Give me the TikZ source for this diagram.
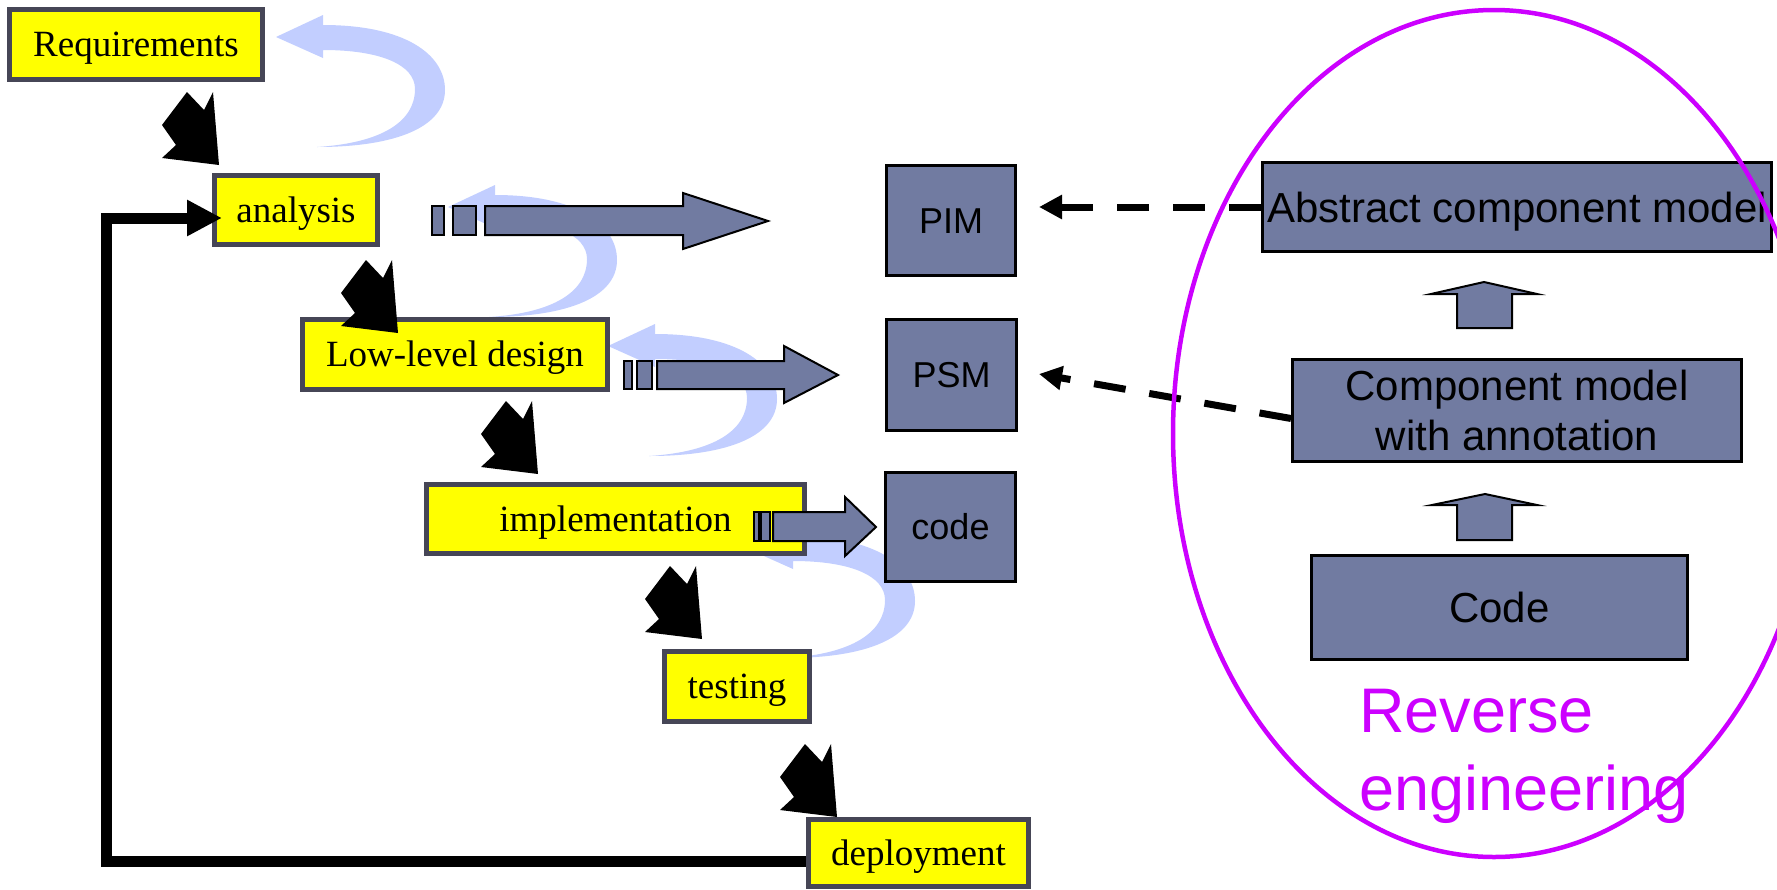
\documentclass[tikz,border=0pt]{standalone}
\usepackage{fontspec}
\setmainfont{Liberation Serif}
\setsansfont{Liberation Sans}
\usetikzlibrary{arrows.meta,calc}
\definecolor{ybox}{RGB}{255,255,0}
\definecolor{yborder}{RGB}{70,70,86}
\definecolor{slate}{RGB}{113,123,161}
\definecolor{lblue}{RGB}{194,206,255}
\definecolor{mag}{RGB}{204,0,255}
\tikzset{
  phase/.style={draw=yborder, fill=ybox, line width=2.5pt, inner sep=0pt,
    font=\fontsize{18.5}{22}\selectfont, text height=12.25pt, text depth=0pt},
  model/.style={draw=black, fill=slate, line width=1.5pt, inner sep=0pt,
    font=\sffamily\fontsize{18}{21}\selectfont, text height=12.9pt, text depth=0pt},
  rmodel/.style={draw=black, fill=slate, line width=1.5pt, inner sep=0pt,
    font=\sffamily\fontsize{21}{25}\selectfont, text height=15pt, text depth=0pt},
  rmodeltwo/.style={draw=black, fill=slate, line width=1.5pt, inner sep=0pt,
    align=center, font=\sffamily\fontsize{21}{25}\selectfont},
  stripe/.style={fill=slate, draw=black, line width=1pt, line join=miter},
  blockup/.style={fill=slate, draw=black, line width=1pt},
  dasharr/.style={draw=black, line width=3.5pt, dash pattern=on 16pt off 12pt,
    -{Triangle[length=11.5pt,width=11.5pt]}},
  fbline/.style={draw=black, line width=5.5pt, line join=miter,
    -{Triangle[length=17.5pt,width=17pt]}, shorten >=-5pt},
  revtext/.style={text=mag, inner sep=0pt, anchor=base west,
    font=\sffamily\fontsize{31.5}{39}\selectfont},
  fatarrow/.pic={\fill[black] (0,0) -- (-6,-73) -- (-15,-55) -- (-32,-73)
    -- (-57,-40) -- (-43,-20) -- (-57,-7) -- cycle;},
  loopback/.pic={\fill[lblue] (0,0) -- (47,-22) -- (47,-12)
    .. controls (130,-12) and (169,18) .. (169,53)
    .. controls (169,90) and (120,110) .. (41,110)
    .. controls (105,106) and (139,85) .. (139,52)
    .. controls (139,28) and (105,13) .. (47,13) -- (47,21) -- cycle;}
}
\begin{document}
\begin{tikzpicture}[x=0.5pt,y=-0.5pt]
\useasboundingbox (0,0) rectangle (1777,889);

% light blue iteration arrows (behind everything)
\pic at (276,37) {loopback};
\pic at (448,207) {loopback};
\pic at (608,346) {loopback};
\pic at (746,548) {loopback};

% phases
\node[phase, minimum width=126.5pt, minimum height=35pt] (req) at (136,44.5) {Requirements};
\node[phase, minimum width=81.5pt, minimum height=34.5pt] (ana) at (296,210) {analysis};
\node[phase, minimum width=152.5pt, minimum height=35pt] (lld) at (455,354.5) {Low-level design};
\node[phase, minimum width=189pt, minimum height=34.5pt] (imp) at (615.5,519) {implementation};
\node[phase, minimum width=72.5pt, minimum height=35pt] (tst) at (737,686.5) {testing};
\node[phase, minimum width=110pt, minimum height=33.5pt] (dep) at (918.5,853) {deployment};

% models
\node[model, minimum width=64.5pt, minimum height=55pt] (pim) at (951,220.5) {PIM};
\node[model, minimum width=65pt, minimum height=55.5pt] (psm) at (951.5,375) {PSM};
\node[model, minimum width=65pt, minimum height=54.5pt] (code) at (950.5,527) {code};

\node[rmodel, minimum width=254.5pt, minimum height=44.5pt] (abs) at (1517,207) {Abstract component model};
\node[rmodeltwo, minimum width=224.5pt, minimum height=51pt] (comp) at (1517,410.5) {Component model\\with annotation};
\node[rmodel, minimum width=188pt, minimum height=52pt] (rcode) at (1499.5,607.5) {Code};

% striped transformation arrows
\draw[stripe] (432,206) rectangle (444,235);
\draw[stripe] (453,206) rectangle (476,235);
\draw[stripe] (485,206) -- (683,206) -- (683,193) -- (768,221) -- (683,249) -- (683,235) -- (485,235) -- cycle;

\draw[stripe] (624,361) rectangle (632,389);
\draw[stripe] (637,361) rectangle (652,389);
\draw[stripe] (657,361) -- (784,361) -- (784,346) -- (838,375) -- (784,403) -- (784,389) -- (657,389) -- cycle;

\draw[stripe] (754,512) rectangle (759,541);
\draw[stripe] (761,512) rectangle (770,541);
\draw[stripe] (773,512) -- (845,512) -- (845,497) -- (876,527) -- (845,556) -- (845,541) -- (773,541) -- cycle;

% up block arrows
\draw[blockup] (1457,328) -- (1457,294) -- (1431,294) -- (1484,282) -- (1537,294) -- (1512,294) -- (1512,328) -- cycle;
\draw[blockup] (1457,540) -- (1457,505) -- (1432,505) -- (1485,494) -- (1537,505) -- (1512,505) -- (1512,540) -- cycle;

% black step arrows
\pic at ($(ana.north west)+(7,-8)$) {fatarrow};
\pic at ($(lld.north west)+(98,16)$) {fatarrow};
\pic at ($(imp.north west)+(114,-8)$) {fatarrow};
\pic at ($(tst.north west)+(40,-10)$) {fatarrow};
\pic at ($(dep.north west)+(31,0)$) {fatarrow};

% feedback loop
\coordinate (fb1) at (106,861);
\coordinate (fb2) at (106,218);
\draw[fbline] (dep.west |- fb1) -- (fb1) -- (fb2) -- (ana.west |- fb2);

% dashed reverse arrows
\draw[dasharr] (abs.west) -- ($(pim.east)+(22,-13.5)$);
\draw[dasharr] ($(comp.west)+(0,8)$) -- ($(psm.east)+(21,-1)$);

% reverse engineering ellipse
\draw[mag, line width=2.25pt] (1494,433.5) ellipse [x radius=160.5pt, y radius=211.75pt];
\node[revtext] (rev1) at (1359,732) {Reverse};
\node[revtext] (rev2) at (1359,810) {engineering};
\end{tikzpicture}
\end{document}
